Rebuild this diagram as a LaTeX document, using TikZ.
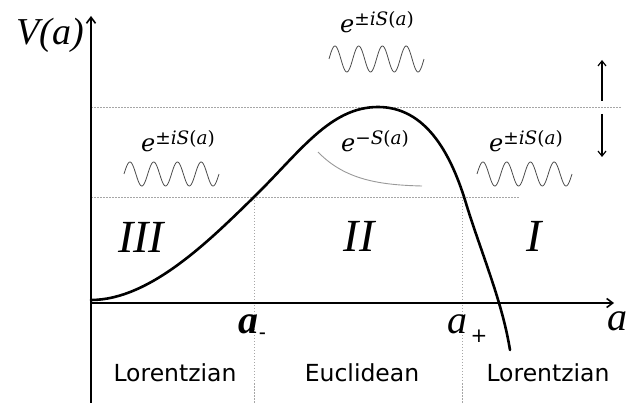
\documentclass[tikz,border=0pt]{standalone}
\usepackage{fontspec}
\usetikzlibrary{arrows.meta}
\newfontfamily\sansf{DejaVu Sans}
\newfontfamily\tnr{Liberation Serif}
\newfontfamily\dvs{DejaVu Serif}
\newcommand{\expo}[1]{{\dvs\fontsize{24}{26}\selectfont\itshape e\raisebox{7.5pt}{\fontsize{18.5}{20}\selectfont #1}}}
\tikzset{
  axisline/.style={line width=2.4pt,-{Straight Barb[length=6pt,width=9pt,line width=1.6pt]}},
  guide/.style={gray!70,line width=0.8pt,dash pattern=on 1.5pt off 1.5pt},
  vguide/.style={gray!70,line width=0.6pt,dash pattern=on 1.5pt off 1.5pt},
  potential/.style={line width=2.6pt,line cap=round},
  wave/.style={black!70,line width=0.8pt},
  region/.style={font=\tnr\itshape\fontsize{46}{48}\selectfont,anchor=base,inner sep=0pt},
  domain lbl/.style={font=\sansf\fontsize{23.5}{25}\selectfont,anchor=base,inner sep=0pt},
  mathlbl/.style={anchor=base,inner sep=0pt},
  shift arrow/.style={line width=1.3pt,-{Straight Barb[length=5pt,width=8pt,line width=1.2pt]}},
}
\begin{document}
\begin{tikzpicture}[x=1pt,y=-1pt]
\useasboundingbox (0,0) rectangle (627,403);
% guides
\coordinate (gu0) at (91,107); \coordinate (gu1) at (622,107);
\coordinate (gl0) at (91,197); \coordinate (gl1) at (520,197);
\coordinate (vm0) at (254,197); \coordinate (vm1) at (254,403);
\coordinate (vp0) at (462,197); \coordinate (vp1) at (462,403);
\draw[guide] (gu0) -- (gu1);
\draw[guide] (gl0) -- (gl1);
\draw[vguide] (vm0) -- (vm1);
\draw[vguide] (vp0) -- (vp1);
% axes
\coordinate (origin) at (91,303);
\coordinate (ybot) at (91,403);
\coordinate (ytop) at (91,16);
\coordinate (xend) at (614,303);
\draw[axisline] (ybot) -- (ytop);
\draw[axisline] (origin) -- (xend);
% potential
\draw[potential] (91,300) .. controls (150,300) and (210,240) .. (254,197)
  .. controls (300,152) and (330,107) .. (378,107)
  .. controls (425,107) and (450,152) .. (465,200)
  .. controls (480,250) and (502,300) .. (510,350);
% gray decay curve
\draw[gray!80,line width=0.9pt] (318,152) .. controls (345,180) and (380,185) .. (422,186);
% waves
\draw[wave] plot[domain=0:95,samples=120] ({124+\x},{174-12*sin(\x/23.75*360)});
\draw[wave] plot[domain=0:95,samples=120] ({329+\x},{59-13*sin(\x/23.75*360)});
\draw[wave] plot[domain=0:95,samples=120] ({477+\x},{174-12*sin(\x/23.75*360)});
% labels
\node[font=\tnr\itshape\fontsize{38}{40}\selectfont,anchor=base,inner sep=0pt] (Va) at (50,45) {V(a)};
\node[font=\tnr\itshape\fontsize{40}{42}\selectfont,anchor=base,inner sep=0pt] (alab) at (617,331) {a};
\node[font=\tnr\bfseries\itshape\fontsize{40}{42}\selectfont,anchor=base east,inner sep=0pt] (am) at (259,334) {a};
\node[font=\tnr\bfseries\fontsize{20}{22}\selectfont,anchor=base west,inner sep=0pt] (amsub) at (am.base east) {\raisebox{-5pt}{-}};
\node[font=\tnr\itshape\fontsize{40}{42}\selectfont,anchor=base,inner sep=0pt] (ap) at (457,334) {a};
\node[font=\sansf\fontsize{20}{22}\selectfont,anchor=base,inner sep=0pt] (apsub) at (479,343) {+};
\node[region] (r3) at (141,253) {III};
\node[region] (r2) at (359,252) {II};
\node[region] (r1) at (534,252) {I};
\node[domain lbl] (lor1) at (175,382) {Lorentzian};
\node[domain lbl] (euc) at (362,382) {Euclidean};
\node[domain lbl] (lor2) at (548,382) {Lorentzian};
\node[mathlbl] (eL) at (178,152) {\expo{\upshape±\itshape iS\upshape(\itshape a\upshape)}};
\node[mathlbl] (eT) at (377,33) {\expo{\upshape±\itshape iS\upshape(\itshape a\upshape)}};
\node[mathlbl] (eR) at (526,152) {\expo{\upshape±\itshape iS\upshape(\itshape a\upshape)}};
\node[mathlbl] (eE) at (375,152) {\expo{\upshape−\itshape S\upshape(\itshape a\upshape)}};
% shift arrows
\coordinate (up0) at (602,101); \coordinate (up1) at (602,60);
\coordinate (dn0) at (602,114); \coordinate (dn1) at (602,157);
\draw[shift arrow] (up0) -- (up1);
\draw[shift arrow] (dn0) -- (dn1);
\end{tikzpicture}
\end{document}
